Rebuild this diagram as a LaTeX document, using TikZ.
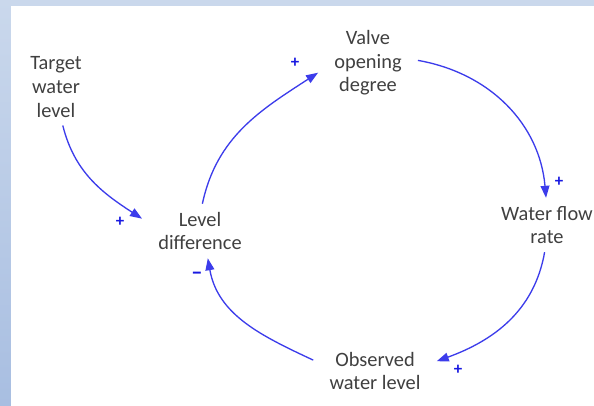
\documentclass[tikz,border=0pt]{standalone}
\usepackage{fontspec}
\setmainfont{Carlito}
\usetikzlibrary{arrows.meta}
\definecolor{loopblue}{RGB}{60,60,235}
\definecolor{signblue}{RGB}{25,25,225}
\definecolor{textgray}{RGB}{64,64,64}
\definecolor{slidetop}{RGB}{202,216,236}
\definecolor{slidebot}{RGB}{168,190,225}

\begin{document}
\begin{tikzpicture}[x=0.25mm,y=0.25mm,
  var/.style={align=center, text=textgray, inner xsep=4mm, inner ysep=2mm, font=\fontsize{14.5}{16.8}\selectfont},
  link/.style={draw=loopblue, line width=0.33mm, -{Triangle[length=3mm,width=2.2mm]}},
  sign/.style={text=signblue, inner sep=0pt, font=\fontsize{12}{12}\selectfont\bfseries}]
\useasboundingbox (0,0) rectangle (594,-406);
\shade[top color=slidetop, bottom color=slidebot] (0,0) rectangle (594,-406);
\fill[white] (11,-6) rectangle (594,-406);

\node[var] (target) at (56,-87) {Target\\water\\level};
\node[var] (valve) at (368,-63) {Valve\\opening\\degree};
\node[var] (flow) at (547,-225) {Water flow\\rate};
\node[var] (diff) at (200,-231) {Level\\difference};
\node[var] (observed) at (375,-371) {Observed\\water level};

\draw[link] (target.-80) to[out=-76, in=147] (diff.168);
\draw[link] (diff.85) to[out=78, in=-147] (valve.191);
\draw[link] (valve.3) to[out=-10, in=95] (flow.92);
\draw[link] (flow.-95) to[out=-100, in=20] (observed.9);
\draw[link] (observed.170) to[out=155, in=-80] (diff.-74);

\node[sign] (ptarget) at (120,-222) {+};
\node[sign] (pvalve) at (295,-63) {+};
\node[sign] (pflow) at (559,-182) {+};
\node[sign] (pobserved) at (458,-370) {+};
\node[sign, font=\fontsize{16}{16}\selectfont\bfseries] (mdiff) at (197,-276) {--};
\end{tikzpicture}
\end{document}
